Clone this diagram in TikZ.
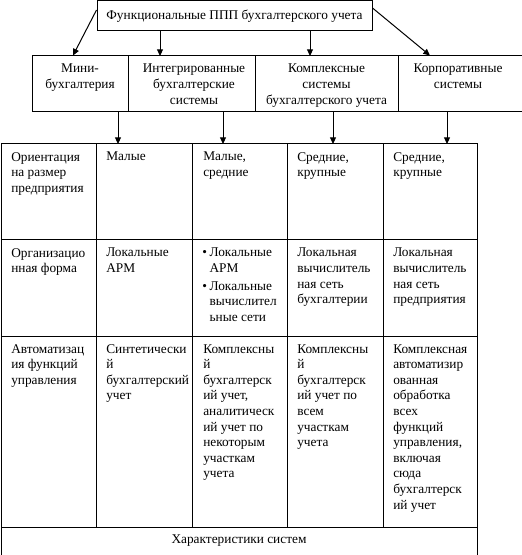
\documentclass[tikz,border=0pt]{standalone}
\usepackage{fontspec}
\setmainfont{Liberation Serif}
\usetikzlibrary{arrows.meta}
\begin{document}
\begin{tikzpicture}[x=0.75pt,y=-0.75pt,
  gridline/.style={draw=black, line width=0.75pt},
  arr/.style={draw=black, line width=0.75pt, -{Triangle[length=5pt,width=4.5pt]}},
  hbox/.style={draw=black, line width=0.75pt, inner sep=0pt},
  txt/.style={inner sep=0pt, anchor=north west, align=left, font=\fontsize{10}{11.7}\selectfont},
  htxt/.style={inner sep=0pt, anchor=north, align=center, font=\fontsize{10}{11.7}\selectfont},
]
\useasboundingbox[fill=white] (0,0) rectangle (521,555);
% top box
\node[hbox, minimum width=206.25pt, minimum height=22.5pt, font=\fontsize{10}{11.7}\selectfont] (top) at (234.5,16) {Функциональные ППП бухгалтерского учета};
% header cells
\node[hbox, minimum width=72pt, minimum height=42pt] (mini) at (80,84) {};
\node[hbox, minimum width=95.25pt, minimum height=42pt] (integ) at (191.5,84) {};
\node[hbox, minimum width=107.25pt, minimum height=42pt] (kompl) at (326.5,84) {};
\node[hbox, minimum width=93.75pt, minimum height=42pt] (korp) at (460.5,84) {};
\node[htxt] (minit) at (80,64) {Мини-\\бухгалтерия};
\node[htxt] (integt) at (194,64) {Интегрированные\\бухгалтерские\\системы};
\node[htxt] (komplt) at (326.5,64) {Комплексные\\системы\\бухгалтерского учета};
\node[htxt] (korpt) at (458,64) {Корпоративные\\системы};
% arrows from top
\coordinate (a2) at (160,56);
\coordinate (a3) at (310,56);
\draw[arr] ([yshift=4.5pt]top.west) -- ([xshift=-5.25pt]mini.north);
\draw[arr] (top.south -| a2) -- (a2);
\draw[arr] (top.south -| a3) -- (a3);
\draw[arr] ([yshift=6pt]top.east) -- ([xshift=-22.9pt]korp.north);
% table
\coordinate (b1) at (118,144);
\coordinate (b2) at (223,144);
\coordinate (b3) at (333,144);
\coordinate (b4) at (447,144);
\draw[arr] (mini.south -| b1) -- (b1);
\draw[arr] (integ.south -| b2) -- (b2);
\draw[arr] (kompl.south -| b3) -- (b3);
\draw[arr] (korp.south -| b4) -- (b4);
\draw[gridline] (1,560) -- (1,144) -- (477,144) -- (477,560);
\draw[gridline] (1,240) -- (477,240);
\draw[gridline] (1,336) -- (477,336);
\draw[gridline] (1,527) -- (477,527);
\foreach \x in {96,192,287,383} \draw[gridline] (\x,144) -- (\x,527);
% row 1
\node[txt] (r1c1) at (11,152) {Ориентация\\на размер\\предприятия};
\node[txt] (r1c2) at (106,152) {Малые};
\node[txt] (r1c3) at (203,152) {Малые,\\средние};
\node[txt] (r1c4) at (297,152) {Средние,\\крупные};
\node[txt] (r1c5) at (393,152) {Средние,\\крупные};
% row 2
\node[txt] (r2c1) at (11,248) {Организацио\\нная форма};
\node[txt] (r2c2) at (106,248) {Локальные\\АРМ};
\node[txt] (r2c3) at (202,248) {\makebox[5.5pt][l]{•}Локальные\\\hspace*{5.5pt}АРМ\\[1.5pt]\makebox[5.5pt][l]{•}Локальные\\\hspace*{5.5pt}вычислител\\\hspace*{5.5pt}ьные сети};
\node[txt] (r2c4) at (297,248) {Локальная\\вычислитель\\ная сеть\\бухгалтерии};
\node[txt] (r2c5) at (393,248) {Локальная\\вычислитель\\ная сеть\\предприятия};
% row 3
\node[txt] (r3c1) at (11,344) {Автоматизац\\ия функций\\управления};
\node[txt] (r3c2) at (106,344) {Синтетически\\й\\бухгалтерский\\учет};
\node[txt] (r3c3) at (203,344) {Комплексны\\й\\бухгалтерск\\ий учет,\\аналитическ\\ий учет по\\некоторым\\участкам\\учета};
\node[txt] (r3c4) at (297,344) {Комплексны\\й\\бухгалтерск\\ий учет по\\всем\\участкам\\учета};
\node[txt] (r3c5) at (393,344) {Комплексная\\автоматизир\\ованная\\обработка\\всех\\функций\\управления,\\включая\\сюда\\бухгалтерск\\ий учет};
% footer
\node[inner sep=0pt, font=\fontsize{10}{11.7}\selectfont] (foot) at (239,541) {Характеристики систем};
\end{tikzpicture}
\end{document}
